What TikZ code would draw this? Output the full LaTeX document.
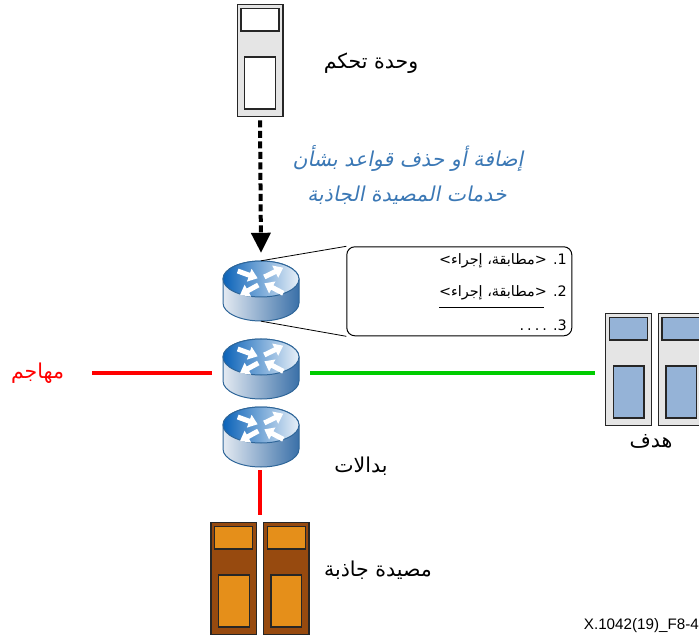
\documentclass[tikz,border=0pt]{standalone}
\usepackage{fontspec}
\usetikzlibrary{arrows.meta}
\TeXXeTstate=1
\newfontfamily\arabicfont[Script=Arabic]{DejaVu Sans}
\newfontfamily\arabicslant[Script=Arabic,FakeSlant=0.2]{DejaVu Sans}
\setmainfont{Liberation Sans}
\definecolor{srvgrey}{HTML}{E5E5E5}
\definecolor{srvblue}{HTML}{95B3D7}
\definecolor{potbrown}{HTML}{974A0F}
\definecolor{potorange}{HTML}{E58F1A}
\definecolor{routeredge}{HTML}{2F6699}
\definecolor{bluetext}{HTML}{3B78B5}
\definecolor{linkgreen}{HTML}{00CC00}
\definecolor{topleft}{HTML}{0A62B8}
\definecolor{topright}{HTML}{E8F0F8}
\definecolor{sideleft}{HTML}{E4EAF2}
\definecolor{sideright}{HTML}{3A70A8}
\tikzset{
  label text/.style={inner sep=0pt,font=\arabicfont\fontsize{20.5}{22}\selectfont},
  blue text/.style={inner sep=0pt,text=bluetext,font=\arabicslant\fontsize{20.5}{22}\selectfont},
  rule text/.style={inner sep=0pt,anchor=east,font=\arabicfont\fontsize{14.4}{16}\selectfont},
  srv outer/.style={draw=black!85,line width=1.4pt,minimum width=45.6pt,minimum height=112.4pt,inner sep=0pt},
  srv inner/.style={draw=black!85,line width=1.4pt},
  router box/.style={minimum width=76pt,minimum height=60pt,inner sep=0pt},
  router arrow/.style={white,line width=5pt,-{Triangle[length=9pt,width=13pt]}},
  link/.style={line width=3.5pt},
}
\newcommand{\serverbox}[5]{%
  \node[srv outer,fill=#4] (#1) at (#2+22.8,#3+56.2) {};
  \draw[srv inner,fill=#5] (#2+3.8,#3+4.2) rectangle (#2+41.8,#3+26.7);
  \draw[srv inner,fill=#5] (#2+7.5,#3+52.7) rectangle (#2+38.3,#3+104.7);
}
\newcommand{\routericon}[3]{%
  \node[router box] (#1) at (#2,#3+12) {};
  \begin{scope}[shift={(#2,#3)}]
    \draw[routeredge,line width=1pt,left color=sideleft,right color=sideright]
      (-38,0) -- (-38,24) arc[start angle=180,end angle=0,x radius=38,y radius=18] -- (38,0)
      arc[start angle=0,end angle=-180,x radius=38,y radius=18] -- cycle;
    \draw[routeredge,line width=1pt,left color=topleft,right color=topright]
      (0,0) ellipse[x radius=38,y radius=18];
    \draw[router arrow] (-23.3,-8) -- (-3.3,-0.7);
    \draw[router arrow] (3.3,-2) -- (22.3,-11.3);
    \draw[router arrow] (-2.7,6) -- (-21,16);
    \draw[router arrow] (22.3,14.3) -- (3.3,4.3);
  \end{scope}
}
\begin{document}
\begin{tikzpicture}[x=1pt,y=-1pt]
\clip (0,0) rectangle (699,636);
\serverbox{ctrl}{237.2}{4.3}{srvgrey}{white}
\serverbox{tgtA}{605.7}{313.3}{srvgrey}{srvblue}
\serverbox{tgtB}{658.3}{313.3}{srvgrey}{srvblue}
\serverbox{potA}{210.9}{522.3}{potbrown}{potorange}
\serverbox{potB}{263.4}{522.3}{potbrown}{potorange}
\routericon{rA}{261}{279}
\routericon{rB}{261}{357}
\routericon{rC}{261}{425}
\node[draw=black,line width=1pt,rounded corners=8pt,minimum width=225pt,minimum height=89pt,inner sep=0pt] (rules) at (459.3,291.3) {};
\draw[line width=.8pt] (rA.north) -- (rules.north west);
\draw[line width=.8pt] (rA.south) -- (rules.south west);
\coordinate (atk) at (92,373);
\coordinate (grn) at (595,373);
\coordinate (potin) at (260,515);
\draw[link,red,shorten >=11pt] (atk) -- (rB.west |- atk) ;
\draw[link,linkgreen,shorten <=11pt] (rB.east |- grn) -- (grn);
\draw[link,red,shorten <=3pt] (rC.south -| potin) -- (potin);
\draw[line width=4pt,dash pattern=on 7pt off 3.5pt,shorten <=3pt,-{Triangle[length=20pt,width=19pt]}] (ctrl.south) -- ([yshift=8pt]rA.north);
\node[label text] (lctrl) at (371,63) {\beginR وحدة تحكم\endR};
\node[blue text] (lblA) at (408,158) {\beginR إضافة أو حذف قواعد بشأن\endR};
\node[blue text] (lblB) at (407,195) {\beginR خدمات المصيدة الجاذبة\endR};
\node[rule text] (ln1) at (567,261) {\beginR 1. <مطابقة، إجراء>\endR};
\node[rule text] (ln2) at (567,293) {\beginR 2. <مطابقة، إجراء>\endR};
\node[rule text] (ln3) at (567,325) {\beginR 3. .\kern3pt.\kern3pt.\kern3pt.\endR};
\coordinate (ulA) at (439,307.7);
\coordinate (ulB) at (544,307.7);
\draw[line width=1.5pt] (ulA) -- (ulB);
\node[label text,text=red] (latk) at (37.5,373) {\beginR مهاجم\endR};
\node[label text] (lrt) at (361,466) {\beginR بدالات\endR};
\node[label text] (lpot) at (378,570) {\beginR مصيدة جاذبة\endR};
\node[label text] (ltgt) at (651,441) {\beginR هدف\endR};
\node[inner sep=0pt,anchor=east,font=\fontsize{15.2}{17}\selectfont] (fig) at (699,626) {X.1042(19)\_F8-4};
\end{tikzpicture}
\end{document}
